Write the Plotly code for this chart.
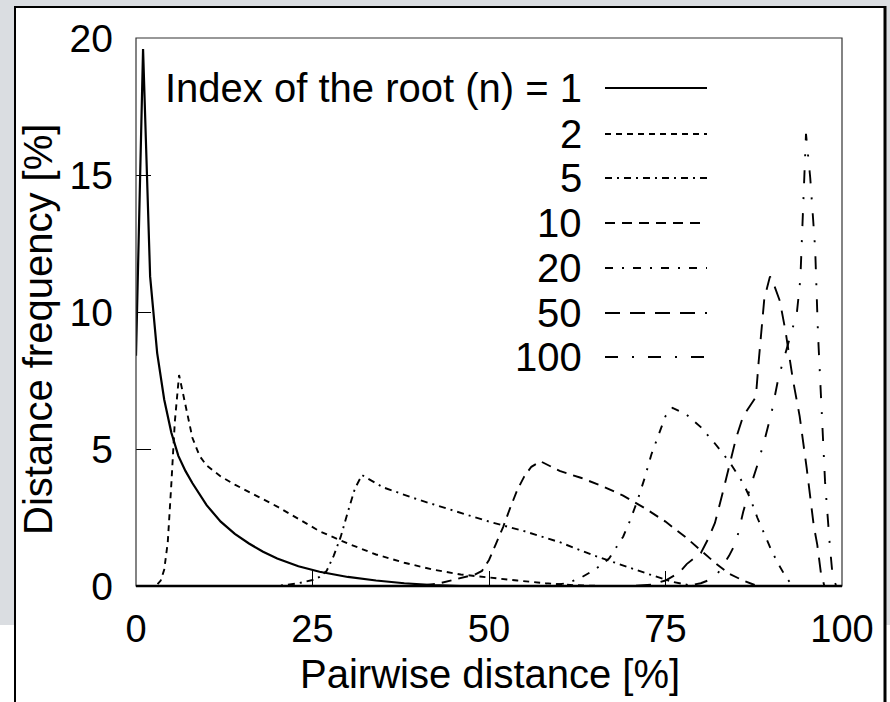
import plotly.graph_objects as go

# ---------------- data ----------------
root_labels = ["1", "2", "5", "10", "20", "50", "100"]

x_n1 = [0, 1, 2, 3, 4, 5, 6, 7, 8, 9, 10, 12, 14, 16, 18, 20, 23, 26, 30, 34, 38, 42, 46, 50, 60, 70, 80, 90, 100]
y_n1 = [8.4, 19.6, 11.3, 8.5, 6.8, 5.6, 4.75, 4.2, 3.75, 3.35, 2.95, 2.35, 1.9, 1.55, 1.25, 1.0, 0.72, 0.52, 0.33, 0.2, 0.1, 0.03, 0, 0, 0, 0, 0, 0, 0]

x_n2 = [0, 2.5, 3, 3.5, 4, 4.5, 5, 5.5, 6.1, 7, 8, 9, 10, 12, 14, 17, 20, 23, 26, 30, 34, 38, 42, 46, 50, 54, 58, 62, 66, 80, 100]
y_n2 = [0, 0, 0.05, 0.2, 0.6, 1.6, 3.7, 6.0, 7.7, 6.6, 5.4, 4.75, 4.4, 4.0, 3.7, 3.3, 2.9, 2.45, 2.0, 1.55, 1.15, 0.85, 0.6, 0.42, 0.3, 0.2, 0.1, 0.03, 0, 0, 0]

x_n5 = [0, 20, 23, 25, 26, 27, 28, 29, 30, 31, 32, 33, 35, 40, 45, 50, 55, 60, 65, 70, 73, 76, 79, 100]
y_n5 = [0, 0, 0.1, 0.22, 0.33, 0.55, 1.1, 1.8, 2.7, 3.55, 4.05, 3.9, 3.6, 3.15, 2.75, 2.35, 2.0, 1.6, 1.1, 0.65, 0.4, 0.15, 0, 0]

x_n10 = [0, 40, 43, 46, 48, 49, 50, 51, 52, 53, 54, 55, 56, 57.3, 60, 63, 66, 69, 72, 75, 78, 80, 82, 84, 86, 88, 100]
y_n10 = [0, 0, 0.1, 0.3, 0.42, 0.55, 0.95, 1.55, 2.15, 2.85, 3.5, 4.0, 4.35, 4.55, 4.2, 3.95, 3.65, 3.3, 2.85, 2.35, 1.75, 1.3, 0.85, 0.45, 0.2, 0, 0]

x_n20 = [0, 58, 61, 63, 65, 67, 69, 70, 71, 72, 73, 74, 75, 76, 78, 80, 82, 84, 86, 87, 88, 89, 90, 91, 92, 93, 100]
y_n20 = [0, 0, 0.1, 0.3, 0.6, 1.0, 1.8, 2.4, 3.1, 3.9, 4.8, 5.5, 6.2, 6.5, 6.25, 5.8, 5.2, 4.55, 3.75, 3.2, 2.5, 1.9, 1.3, 0.8, 0.35, 0, 0]

x_n50 = [0, 70, 73, 75, 77, 78, 79, 80, 81, 82, 83, 84, 85, 86, 87, 87.8, 88.2, 88.6, 89, 89.8, 90.5, 91.2, 92, 93, 94, 95, 96, 96.5, 97, 97.5, 100]
y_n50 = [0, 0, 0.05, 0.2, 0.5, 0.8, 1.0, 1.2, 1.7, 2.3, 3.3, 4.3, 5.4, 6.2, 6.6, 6.9, 8.2, 9.5, 10.5, 11.3, 10.9, 10.4, 9.3, 7.6, 6.2, 4.3, 2.2, 1.5, 0.5, 0, 0]

x_n100 = [0, 78, 80, 82, 84, 85, 86, 87, 88, 89, 90, 91, 92, 93, 93.6, 94.1, 94.3, 94.5, 94.9, 95.5, 96.2, 96.6, 97.2, 97.6, 98.3, 98.7, 99.2, 100]
y_n100 = [0, 0, 0.1, 0.3, 1.1, 1.6, 2.7, 3.6, 4.4, 5.3, 6.3, 7.6, 8.5, 9.4, 9.95, 11.2, 12.6, 14.1, 16.5, 14.9, 12.3, 9.2, 6.2, 3.8, 1.4, 0.3, 0, 0]

x_tick_vals = [0, 25, 50, 75, 100]
x_tick_labels = ["0", "25", "50", "75", "100"]
y_tick_vals = [0, 5, 10, 15, 20]
y_tick_labels = ["0", "5", "10", "15", "20"]

x_title = "Pairwise distance [%]"
y_title = "Distance frequency [%]"
legend_head = "Index of the root (n) = "

# ---------------- styling ----------------
W, H = 890, 702
L, R, T, B = 136, 842, 38, 586   # plot area in pixels
FONT = "Liberation Sans, Arial, Helvetica, sans-serif"

series = [(x_n1, y_n1), (x_n2, y_n2), (x_n5, y_n5), (x_n10, y_n10),
          (x_n20, y_n20), (x_n50, y_n50), (x_n100, y_n100)]
dashes = ["solid", "6px,5px", "7px,5px,2px,5px", "10px,7px",
          "8px,9px,2px,9px", "15px,10px", "13px,14px,2px,14px"]
widths = [2.2, 1.9, 1.9, 1.9, 1.9, 1.9, 1.9]


def px(xp):
    return (xp - L) / (R - L)


def py(yp):
    return (B - yp) / (B - T)


fig = go.Figure()
for (xs, ys), d, w in zip(series, dashes, widths):
    fig.add_trace(go.Scatter(x=xs, y=ys, mode="lines",
                             line=dict(color="black", width=w, dash=d),
                             showlegend=False, hoverinfo="skip"))

shapes = []
grey = "#dadde1"
# screenshot surround
shapes.append(dict(type="rect", xref="paper", yref="paper", x0=px(0), x1=px(15), y0=py(0), y1=py(625),
                   line=dict(width=0), fillcolor=grey, layer="below"))
shapes.append(dict(type="rect", xref="paper", yref="paper", x0=px(0), x1=px(890), y0=py(0), y1=py(7),
                   line=dict(width=0), fillcolor=grey, layer="below"))
shapes.append(dict(type="rect", xref="paper", yref="paper", x0=px(885), x1=px(890), y0=py(0), y1=py(625),
                   line=dict(width=0), fillcolor=grey, layer="below"))
shapes.append(dict(type="line", xref="paper", yref="paper", x0=px(14), x1=px(886), y0=py(7), y1=py(7),
                   line=dict(color="black", width=2)))
shapes.append(dict(type="line", xref="paper", yref="paper", x0=px(15), x1=px(15), y0=py(6), y1=py(702),
                   line=dict(color="black", width=2)))
shapes.append(dict(type="line", xref="paper", yref="paper", x0=px(885), x1=px(885), y0=py(6), y1=py(702),
                   line=dict(color="black", width=3)))
# plot frame
shapes.append(dict(type="rect", xref="paper", yref="paper", x0=0, x1=1, y0=0, y1=1,
                   line=dict(color="#333333", width=1.2)))
shapes.append(dict(type="line", xref="paper", yref="paper", x0=0, x1=1, y0=0, y1=0,
                   line=dict(color="black", width=2.6)))

# custom legend
row_y = [88, 134, 178, 223, 268, 313, 357]
annotations = []
for i, (lab, d, w) in enumerate(zip(root_labels, dashes, widths)):
    txt = (legend_head + lab) if i == 0 else lab
    annotations.append(dict(xref="paper", yref="paper", x=px(584), y=py(row_y[i]),
                            text=txt, showarrow=False, xanchor="right", yanchor="middle",
                            font=dict(family=FONT, size=40, color="black")))
    shapes.append(dict(type="line", xref="paper", yref="paper", x0=px(605), x1=px(707),
                       y0=py(row_y[i]), y1=py(row_y[i]),
                       line=dict(color="black", width=w, dash=d)))

annotations.append(dict(xref="paper", yref="paper", x=px(490), y=py(674), text=x_title,
                        showarrow=False, xanchor="center", yanchor="middle",
                        font=dict(family=FONT, size=40, color="black")))
annotations.append(dict(xref="paper", yref="paper", x=px(38), y=py(330), text=y_title,
                        showarrow=False, xanchor="center", yanchor="middle", textangle=-90,
                        font=dict(family=FONT, size=40, color="black")))

fig.update_layout(
    width=W, height=H,
    margin=dict(l=L, r=W - R, t=T, b=H - B, pad=0),
    paper_bgcolor="white", plot_bgcolor="white",
    font=dict(family=FONT, size=39, color="black"),
    shapes=shapes, annotations=annotations,
    xaxis=dict(range=[0, 100], tickvals=x_tick_vals, ticktext=x_tick_labels,
               ticks="inside", ticklen=15, tickwidth=1, tickcolor="black",
               showgrid=False, zeroline=False, showline=False,
               tickfont=dict(family=FONT, size=38, color="black"),
               ticklabelstandoff=17, fixedrange=True),
    yaxis=dict(range=[0, 20], tickvals=y_tick_vals, ticktext=y_tick_labels,
               ticks="inside", ticklen=15, tickwidth=1, tickcolor="black",
               showgrid=False, zeroline=False, showline=False,
               tickfont=dict(family=FONT, size=39, color="black"),
               ticklabelstandoff=22, fixedrange=True),
)

fig.write_html("out.html", config={"displayModeBar": False},
               post_script="document.body.style.margin='0';document.body.style.overflow='hidden';")
